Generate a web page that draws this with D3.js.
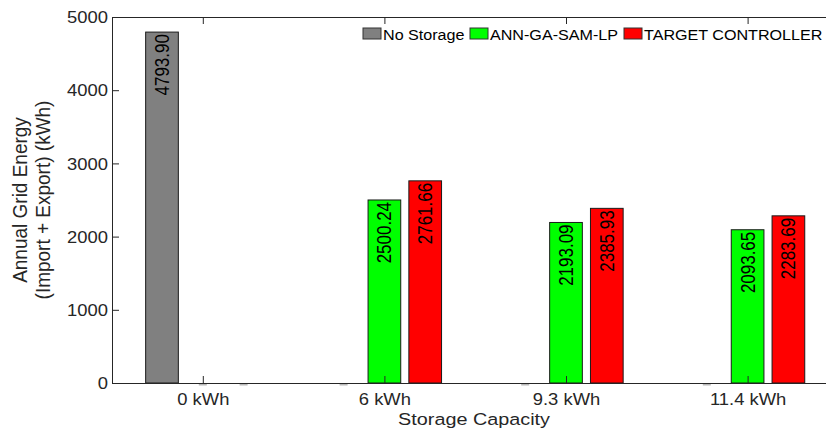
<!DOCTYPE html>
<html>
<head>
<meta charset="utf-8">
<script src="https://cdn.jsdelivr.net/npm/d3@7"></script>
<style>
  html, body { margin: 0; padding: 0; background: #fff; overflow: hidden; }
  svg { display: block; font-family: "Liberation Sans", Arial, sans-serif; }
</style>
</head>
<body>
<svg id="chart" width="826" height="430"></svg>
<script>
// Storage capacities on the x axis
const categories = ["0 kWh", "6 kWh", "9.3 kWh", "11.4 kWh"];
// Series names, in legend order
const seriesNames = ["No Storage", "ANN-GA-SAM-LP", "TARGET CONTROLLER"];
// Annual grid energy (import + export), kWh
const noStorage = [4793.90, 0, 0, 0];
const annGaSamLp = [0, 2500.24, 2193.09, 2093.65];
const targetController = [0, 2761.66, 2385.93, 2283.69];
// Y axis ticks
const yTicks = [0, 1000, 2000, 3000, 4000, 5000];

const seriesValues = [noStorage, annGaSamLp, targetController];
const seriesColors = ["#808080", "#00ff00", "#ff0000"];

const svg = d3.select("#chart");
const axisColor = "#262626";
// text is rendered slightly wide, as in the exported figure
const wide = 1.15;

// Plot box (the right edge runs past the visible window)
const plotLeft = 112, plotTop = 17, plotBottom = 383;
const groupStep = 181.6;
const plotRight = plotLeft + groupStep * categories.length;

const x = d3.scaleLinear().domain([0.5, categories.length + 0.5]).range([plotLeft, plotRight]);
const y = d3.scaleLinear().domain([0, 5000]).range([plotBottom, plotTop]);

// grouped bar geometry in x-domain units
const barOffset = 0.2247;
const barWidth = 0.18;

const rows = [];
seriesValues.forEach((vals, s) => {
  vals.forEach((v, i) => {
    rows.push({ s, i, v, cx: x(i + 1 + (s - 1) * barOffset) });
  });
});
const bw = x(barWidth) - x(0);

// bars
const g = svg.append("g");
g.selectAll("rect.bar")
  .data(rows.filter(d => d.v > 0))
  .join("rect")
  .attr("class", "bar")
  .attr("x", d => d.cx - bw / 2)
  .attr("y", d => y(d.v))
  .attr("width", bw)
  .attr("height", d => y(0) - y(d.v))
  .attr("fill", d => seriesColors[d.s])
  .attr("stroke", "#1a1a1a")
  .attr("stroke-width", 1);

// zero-height bars leave a faint stub on the baseline
g.selectAll("rect.zero")
  .data(rows.filter(d => d.v === 0))
  .join("rect")
  .attr("class", "zero")
  .attr("x", d => d.cx - 4)
  .attr("y", y(0) + 0.5)
  .attr("width", 8)
  .attr("height", 2)
  .attr("fill", "#b8b8b8");

// value labels, rotated, hanging from the bar top
g.selectAll("text.val")
  .data(rows.filter(d => d.v > 0))
  .join("text")
  .attr("class", "val")
  .attr("transform", d => `translate(${d.cx},${y(d.v) + 2}) scale(${wide},1) rotate(-90)`)
  .attr("text-anchor", "end")
  .attr("dy", "0.36em")
  .attr("font-size", 17)
  .attr("fill", "#000")
  .text(d => d.v.toFixed(2));

// axes
const xAxis = d3.axisBottom(x)
  .tickValues(categories.map((c, i) => i + 1))
  .tickFormat((d, i) => categories[i])
  .tickSizeInner(-7).tickSizeOuter(0).tickPadding(11);
const gx = svg.append("g").attr("transform", `translate(0,${plotBottom})`).call(xAxis);

const xTop = d3.axisTop(x)
  .tickValues(categories.map((c, i) => i + 1))
  .tickFormat("")
  .tickSizeInner(-7).tickSizeOuter(0);
svg.append("g").attr("transform", `translate(0,${plotTop})`).call(xTop);

const yPad = 4;
const yAxis = d3.axisLeft(y)
  .tickValues(yTicks)
  .tickFormat(d3.format("d"))
  .tickSizeInner(-7).tickSizeOuter(0).tickPadding(yPad);
const gy = svg.append("g").attr("transform", `translate(${plotLeft},0)`).call(yAxis);

const yRight = d3.axisRight(y).tickValues(yTicks).tickFormat("").tickSizeInner(-7).tickSizeOuter(0);
svg.append("g").attr("transform", `translate(${plotRight},0)`).call(yRight);

svg.selectAll(".domain, .tick line").attr("stroke", axisColor).attr("stroke-width", 1);
svg.selectAll(".tick text").attr("fill", axisColor).attr("font-size", 16)
  .attr("font-family", "'Liberation Sans', Arial, sans-serif")
  .attr("transform", `scale(${wide},1)`);
gy.selectAll(".tick text").attr("dy", "0.36em").attr("x", -yPad / wide);

// axis titles
svg.append("text")
  .attr("transform", `translate(474,425) scale(1.2,1)`)
  .attr("text-anchor", "middle")
  .attr("font-size", 16.5).attr("fill", axisColor)
  .text("Storage Capacity");

const yTitle = ["Annual Grid Energy", "(Import + Export) (kWh)"];
const yTitleX = [27, 49.5];
svg.selectAll("text.ytitle")
  .data(yTitle)
  .join("text")
  .attr("class", "ytitle")
  .attr("transform", (d, i) => `translate(${yTitleX[i]},${(plotTop + plotBottom) / 2}) scale(1.05,1) rotate(-90)`)
  .attr("text-anchor", "middle")
  .attr("font-size", 19).attr("fill", axisColor)
  .text(d => d);

// legend, one swatch + label per series
const legendX = [363, 470, 624];
const legend = svg.append("g");
seriesNames.forEach((name, s) => {
  legend.append("rect")
    .attr("x", legendX[s]).attr("y", 28).attr("width", 18).attr("height", 11)
    .attr("fill", seriesColors[s]).attr("stroke", "#333").attr("stroke-width", 1);
  legend.append("text")
    .attr("transform", `translate(${legendX[s] + 20},39.5) scale(1.04,1)`)
    .attr("font-size", 15.5).attr("fill", "#000")
    .text(name);
});
</script>
</body>
</html>
